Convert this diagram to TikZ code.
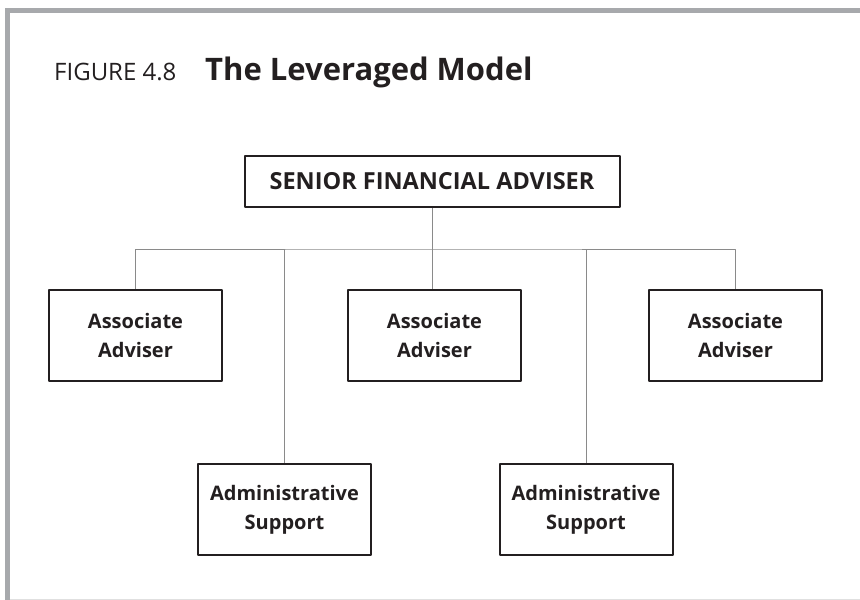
\documentclass[tikz,border=0pt]{standalone}
\usepackage{fontspec}
\setmainfont{Open Sans}
\definecolor{ink}{HTML}{231F20}
\definecolor{frame}{HTML}{A7A9AC}
\definecolor{wire}{HTML}{8A8A8A}
\begin{document}
\begin{tikzpicture}[x=1pt,y=-1pt,join=round,
    box/.style={draw=ink,line width=2pt,text=ink,minimum width=173pt,minimum height=91pt,
      align=center,inner sep=0pt,font=\bfseries\fontsize{20}{29}\selectfont},
    link/.style={draw=wire,line width=1pt}] % Leveraged model chart
       \useasboundingbox (0,0) rectangle (860,600);
       \fill[frame](5,8) rectangle (860,13);
       \fill[frame](5,8) rectangle (10,600);
       \draw[black!12,line width=1pt](10,599)--(860,599);
       \node[anchor=base west,inner sep=0pt,text=ink,font=\fontsize{24}{28}\selectfont] (fig) at (54,80) {FIGURE 4.8};
       \node[anchor=base west,inner sep=0pt,text=ink,font=\bfseries\fontsize{31}{36}\selectfont] (title) at (205,80) {The Leveraged Model};
       \node[box,minimum width=375pt,minimum height=51pt,font=\bfseries\fontsize{23.5}{28}\selectfont] (senior) at (432,181.5) {SENIOR FINANCIAL ADVISER};
       \node[box] (assocL) at (135.5,335.5) {Associate\\Adviser};
       \node[box] (assocM) at (434.5,335.5) {Associate\\Adviser};
       \node[box] (assocR) at (735.5,335.5) {Associate\\Adviser};
       \node[box] (adminL) at (284.5,509.5) {Administrative\\Support};
       \node[box] (adminR) at (586,509.5) {Administrative\\Support};
       \coordinate (hub) at (432,249);
       \draw[link](senior)--(hub);
       \draw[link](assocL.north)|-(hub)-|(assocR.north);
       \draw[link](hub)--(hub|-assocM.north);
       \draw[link](adminL.north)--(adminL.north|-hub);
       \draw[link](adminR.north)--(adminR.north|-hub);
\end{tikzpicture}
\end{document}
